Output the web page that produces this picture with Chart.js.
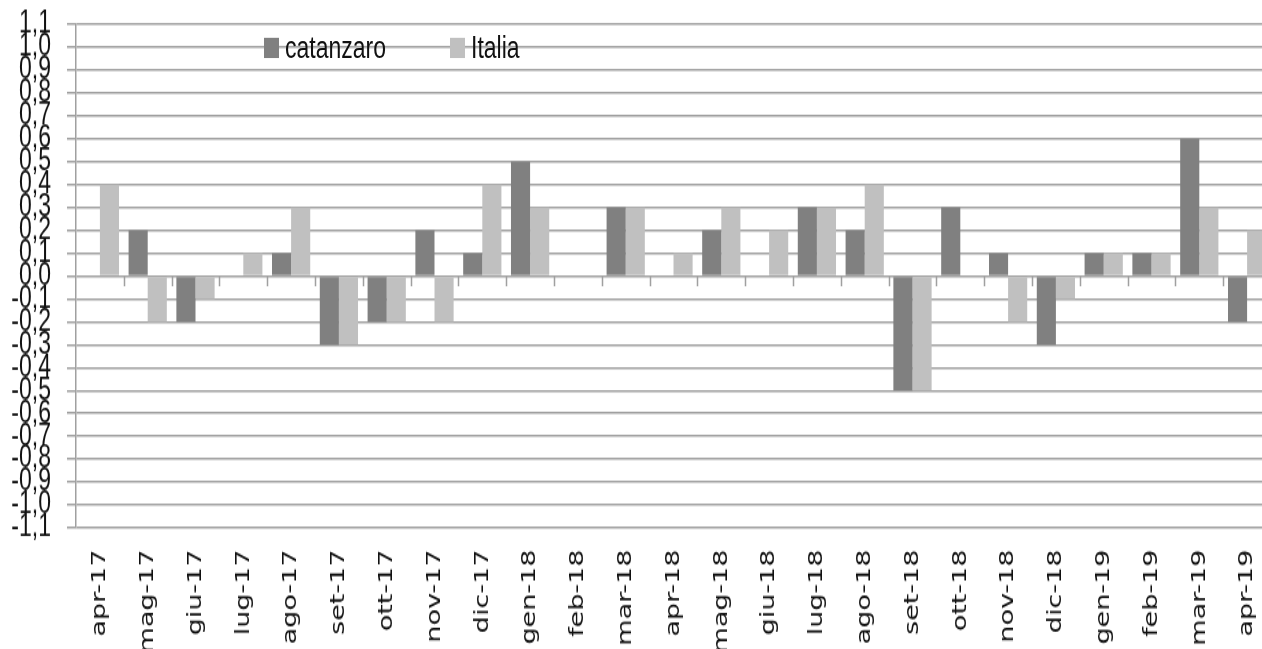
<!DOCTYPE html>
<html lang="it">
<head>
<meta charset="utf-8">
<title>catanzaro - Italia</title>
<script src="https://cdn.jsdelivr.net/npm/chart.js"></script>
<style>
  html { overflow: hidden; background: #fff; }
  body { margin: 0; padding: 0; width: 1262px; height: 649px; }
  /* the reference image is stretched vertically, so the whole chart is scaled the same way */
  #wrap { position: relative; width: 1280px; height: 481px; transform: scaleY(1.35); transform-origin: 0 0; }
  #chart { display: block; }
  .legend-item { position: absolute; top: 24px; height: 22px; display: flex; align-items: center; font: 23px 'Liberation Sans', sans-serif; color: #111; }
  .legend-item i { display: inline-block; width: 15px; height: 15px; margin-right: 6px; }
</style>
</head>
<body>
<div id="wrap">
  <canvas id="chart" width="1280" height="481"></canvas>
  <div class="legend-item" style="left:264px"><i style="background:#808080"></i>catanzaro</div>
  <div class="legend-item" style="left:450px"><i style="background:#c0c0c0"></i>Italia</div>
</div>
<script>
const months = ['apr-17', 'mag-17', 'giu-17', 'lug-17', 'ago-17', 'set-17', 'ott-17', 'nov-17', 'dic-17', 'gen-18',
  'feb-18', 'mar-18', 'apr-18', 'mag-18', 'giu-18', 'lug-18', 'ago-18', 'set-18', 'ott-18', 'nov-18',
  'dic-18', 'gen-19', 'feb-19', 'mar-19', 'apr-19'];
const catanzaro = [0, 0.2, -0.2, 0, 0.1, -0.3, -0.2, 0.2, 0.1, 0.5, 0, 0.3, 0, 0.2, 0, 0.3, 0.2, -0.5, 0.3, 0.1, -0.3, 0.1, 0.1, 0.6, -0.2];
const italia = [0.4, -0.2, -0.1, 0.1, 0.3, -0.3, -0.2, -0.2, 0.4, 0.3, 0, 0.3, 0.1, 0.3, 0.2, 0.3, 0.4, -0.5, 0, -0.2, -0.1, 0.1, 0.1, 0.3, 0.2];
const yMin = -1.1;
const yMax = 1.1;
const yStep = 0.1;

const gridColor = '#a0a0a0';

// small tick marks on the zero line between the months
const zeroTicks = {
  id: 'zeroTicks',
  afterDatasetsDraw(chart) {
    const x = chart.scales.x;
    const y0 = chart.scales.y.getPixelForValue(0);
    const ctx = chart.ctx;
    ctx.save();
    ctx.strokeStyle = gridColor;
    ctx.lineWidth = 1.5;
    ctx.beginPath();
    for (let i = 1; i < months.length; i++) {
      const px = Math.round((x.getPixelForValue(i - 1) + x.getPixelForValue(i)) / 2) + 0.5;
      ctx.moveTo(px, y0);
      ctx.lineTo(px, y0 + 7.5);
    }
    ctx.stroke();
    ctx.restore();
  }
};

new Chart(document.getElementById('chart'), {
  type: 'bar',
  data: {
    labels: months,
    datasets: [
      { label: 'catanzaro', data: catanzaro, backgroundColor: '#808080', borderWidth: 0 },
      { label: 'Italia', data: italia, backgroundColor: '#c0c0c0', borderWidth: 0 }
    ]
  },
  options: {
    responsive: false,
    animation: false,
    datasets: { bar: { barPercentage: 1, categoryPercentage: 0.8 } },
    layout: { padding: { top: 18, right: 9, left: 0, bottom: 0 } },
    plugins: { legend: { display: false }, tooltip: { enabled: false } },
    scales: {
      x: {
        grid: { display: false, drawTicks: false },
        border: { display: false },
        ticks: {
          autoSkip: false,
          minRotation: 90,
          maxRotation: 90,
          padding: 16,
          color: '#111',
          font: { family: 'DejaVu Sans', size: 20 }
        },
        afterFit(scale) {
          scale.height = 90;
          scale.paddingLeft = 0;
          scale.paddingRight = 0;
        }
      },
      y: {
        min: yMin,
        max: yMax,
        grid: { color: gridColor, lineWidth: 1.5, tickLength: 9 },
        border: { color: gridColor, width: 1.5 },
        ticks: {
          stepSize: yStep,
          autoSkip: false,
          padding: 16,
          color: '#111',
          font: { family: 'Liberation Sans', size: 23 },
          callback: (v) => Number(v).toFixed(1).replace('.', ',')
        },
        afterFit(scale) {
          scale.width = 76;
          scale.paddingTop = 0;
          scale.paddingBottom = 0;
        }
      }
    }
  },
  plugins: [zeroTicks]
});
</script>
</body>
</html>
